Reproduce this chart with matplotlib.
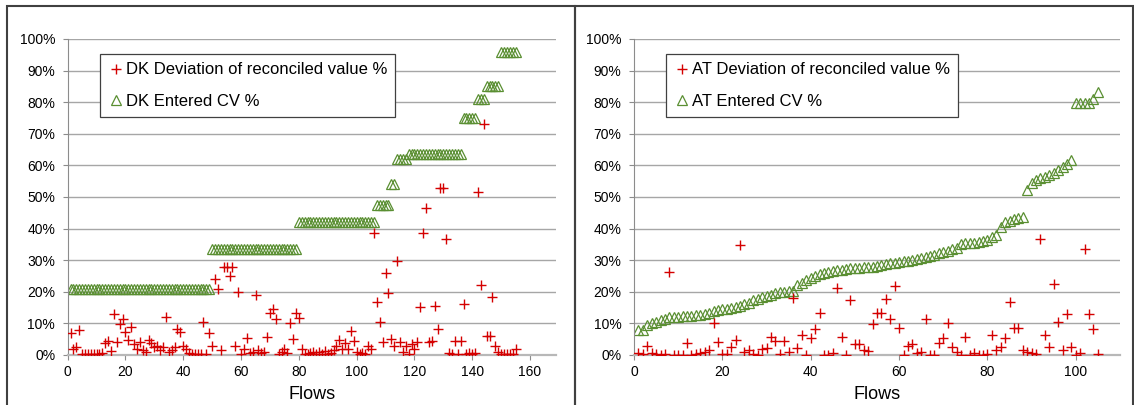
import matplotlib
matplotlib.use('Agg')
import matplotlib.pyplot as plt
import numpy as np
from matplotlib.patches import Rectangle
from matplotlib.ticker import PercentFormatter, MultipleLocator

plt.rcParams['font.family'] = ['Liberation Sans', 'DejaVu Sans']

# DK: deviation of reconciled value (%) per flow
dk_deviation = [
    7, 2, 2.5, 8, 0.3, 0.2, 0.3, 0.2, 0.4, 0.3,
    0.2, 0.5, 3.9, 4.4, 1.3, 12.9, 4.2, 9.7, 11.4, 7.4,
    4.7, 9, 3.5, 2, 4.2, 1.5, 1, 4.7, 3.9, 2.5,
    3, 1.5, 2.5, 12.1, 1, 1.7, 2.5, 8.1, 7.2, 3,
    2, 0.5, 0.3, 0.2, 0.3, 0.2, 10.5, 0.4, 7.1, 3,
    24, 21, 1.5, 28, 28, 25, 28, 3, 19.8, 0.3,
    2, 5.5, 0.5, 1, 19, 1.5, 0.5, 1, 5.6, 13.4,
    14.5, 11.3, 0.3, 1, 2, 0.5, 10, 5.1, 13.4, 11.7,
    2, 0.3, 0.2, 0.5, 1, 0.3, 0.8, 0.4, 1.2, 0.3,
    0.6, 1.5, 3, 4.9, 2, 3.9, 2, 7.6, 4.4, 1,
    0.3, 0.5, 0.3, 2.7, 2, 38.5, 16.9, 10.3, 4, 26,
    19.5, 5, 3, 29.7, 4, 1, 3, 0.3, 3.5, 2,
    4, 15.1, 38.5, 46.4, 4, 4.5, 15.5, 8.2, 53, 53,
    36.6, 0.5, 0.3, 4.5, 0.3, 4.5, 16, 0.3, 0.5, 0.3,
    0.5, 51.7, 22, 73, 6, 6, 18.5, 3, 1, 0.2,
    0.3, 0.2, 0.3, 0.3, 2,
]

# DK: entered CV (%) comes in steps
dk_cv_levels = [21, 33.5, 42, 47.5, 54, 62, 63.5, 75, 81, 85, 96]
dk_cv_counts = [49, 30, 27, 5, 2, 4, 19, 5, 3, 5, 6]

# AT: deviation of reconciled value (%) per flow
at_deviation = [
    0.5, 0.2, 2.7, 0.5, 0.3, 0.1, 0.3, 26.2, 0.1, 0.1,
    0.1, 3.8, 0.1, 0.3, 0.5, 0.8, 1.5, 10.2, 4, 0.3,
    0.3, 2.4, 4.6, 34.8, 0.8, 1.7, 0.3, 0.1, 2, 2.3,
    5.6, 4.3, 0.3, 4.3, 0.9, 17.9, 2.2, 6.2, 0.1, 5.3,
    8.1, 13.2, 0.1, 0.1, 0.6, 21.3, 5.8, 0.1, 17.4, 3.4,
    3.6, 1.6, 1.2, 9.7, 13.2, 13.2, 17.6, 11.3, 21.8, 8.6,
    0.1, 3, 3.5, 0.5, 1, 11.3, 0.1, 0.1, 3.8, 5.3,
    10, 2.4, 0.9, 0.1, 5.8, 0.1, 0.5, 0.1, 0.1, 0.3,
    6.2, 1.5, 2.6, 5.3, 16.9, 8.6, 8.6, 1.5, 0.9, 0.5,
    0.3, 36.6, 6.3, 2.6, 22.4, 10.3, 1.5, 12.9, 2.6, 0.1,
    0.5, 33.4, 12.9, 8.1, 0.3,
]

# AT: entered CV (%) per flow
at_cv = [
    8, 8, 9.5, 10, 10.5, 11, 11.5, 12, 12, 12,
    12.2, 12.4, 12.5, 12.6, 12.8, 13, 13.2, 13.8, 14.2, 14.4,
    14.6, 15, 15.2, 15.5, 16, 16.5, 17.4, 17.8, 18.2, 18.6,
    19, 19.6, 19.8, 20, 20.1, 20.3, 22, 22.8, 23.6, 24.4,
    25, 25.5, 26, 26.4, 26.6, 26.8, 27, 27.2, 27.4, 27.5,
    27.6, 27.7, 27.8, 28, 28.2, 28.4, 28.7, 29, 29.2, 29.4,
    29.6, 29.8, 30, 30.3, 30.6, 31, 31.4, 31.8, 32.2, 32.6,
    33, 33.5, 34, 35, 35.3, 35.4, 35.5, 35.7, 36, 36.5,
    37.3, 38, 40.6, 42, 42.5, 43, 43.4, 43.8, 52.2, 54.5,
    55.5, 56, 56.4, 57, 57.5, 58.5, 59.4, 60.5, 61.7, 79.6,
    79.6, 79.6, 79.6, 81, 83.3,
]

x_ticks_dk = [0, 20, 40, 60, 80, 100, 120, 140, 160]
x_ticks_at = [0, 20, 40, 60, 80, 100]

RED = '#d40000'
GREEN = '#5a8f32'
GRID = '#a6a6a6'
W, H = 1134, 405


def plot_panel(ax, deviation, cv, country, xmax, xticks):
    flows_dev = np.arange(1, len(deviation) + 1)
    flows_cv = np.arange(1, len(cv) + 1)

    ax.plot(flows_dev, deviation, linestyle='none', marker='+', color=RED,
            markersize=7, markeredgewidth=1.0,
            label=country + ' Deviation of reconciled value %', zorder=3)
    ax.plot(flows_cv, cv, linestyle='none', marker='^', markerfacecolor='none',
            markeredgecolor=GREEN, markersize=7.5, markeredgewidth=0.9,
            label=country + ' Entered CV %', zorder=2)

    ax.set_xlim(0, xmax)
    ax.set_ylim(0, 100)
    ax.set_xticks(xticks)
    ax.yaxis.set_major_locator(MultipleLocator(10))
    ax.yaxis.set_major_formatter(PercentFormatter(xmax=100, decimals=0))
    ax.grid(axis='y', color=GRID, linewidth=1.0)
    ax.set_axisbelow(True)

    for side in ['top', 'right']:
        ax.spines[side].set_visible(False)
    ax.spines['left'].set_color('#8c8c8c')
    ax.spines['bottom'].set_color('#b8b8b8')
    ax.spines['bottom'].set_linewidth(1.6)
    ax.tick_params(axis='y', length=3.5, color='#8c8c8c', pad=5.5, labelsize=10)
    ax.tick_params(axis='x', length=3.5, color='#8c8c8c', pad=3.5, labelsize=10)
    ax.set_xlabel('Flows', fontsize=13, labelpad=5)

    leg = ax.legend(loc='upper left', bbox_to_anchor=(0.066, 0.9525),
                    borderaxespad=0, fontsize=12, frameon=True, fancybox=False,
                    borderpad=0.5, labelspacing=1.0, handlelength=0.9,
                    handletextpad=0.15, edgecolor='#404040', framealpha=1)
    leg.get_frame().set_linewidth(0.9)


fig = plt.figure(figsize=(W / 100, H / 100), dpi=100)

ax1 = fig.add_axes([67.7 / W, 1 - 355 / H, (556 - 67.7) / W, 316 / H])
ax2 = fig.add_axes([634 / W, 1 - 355 / H, (1120 - 634) / W, 316 / H])

plot_panel(ax1, dk_deviation, np.repeat(dk_cv_levels, dk_cv_counts), 'DK', 169, x_ticks_dk)
plot_panel(ax2, at_deviation, at_cv, 'AT', 110, x_ticks_at)

# chart frames
fig.add_artist(Rectangle((7 / W, -0.05), (575 - 7) / W, 1 - 6 / H + 0.05,
                         transform=fig.transFigure, fill=False,
                         edgecolor='#404040', linewidth=1.5))
fig.add_artist(Rectangle((575 / W, -0.05), (1133 - 575) / W, 1 - 6 / H + 0.05,
                         transform=fig.transFigure, fill=False,
                         edgecolor='#404040', linewidth=1.5))

fig.savefig('out.png', dpi=100)
